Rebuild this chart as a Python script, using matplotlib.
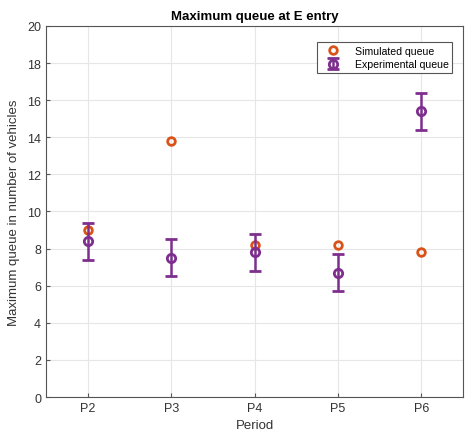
import matplotlib.pyplot as plt
import numpy as np

periods = ['P2', 'P3', 'P4', 'P5', 'P6']
simulated = [9.0, 13.8, 8.2, 8.2, 7.8]
experimental = [8.4, 7.5, 7.8, 6.7, 15.4]
exp_err = [1.0, 1.0, 1.0, 1.0, 1.0]

orange = '#D95319'
purple = '#7E2F8E'

plt.rcParams['font.family'] = ['Liberation Sans', 'DejaVu Sans']

fig = plt.figure(figsize=(4.65, 4.35), dpi=100)
ax = fig.add_axes([0.099, 0.085, 0.897, 0.853])

x = np.arange(1, len(periods) + 1)
ax.plot(x, simulated, 'o', mfc='none', mec=orange, mew=2, ms=5.5,
        label='Simulated queue', zorder=3)
ax.errorbar(x, experimental, yerr=exp_err, fmt='o', mfc='none', mec=purple,
            mew=2, ms=6, ecolor=purple, elinewidth=1.8, capsize=4.5,
            capthick=1.8, label='Experimental queue', zorder=3)

ax.set_xlim(0.5, 5.5)
ax.set_ylim(0, 20)
ax.set_xticks(x)
ax.set_xticklabels(periods)
ax.set_yticks(np.arange(0, 21, 2))
ax.grid(True, color='#e6e6e6', linewidth=0.8)
ax.set_axisbelow(True)
for s in ax.spines.values():
    s.set_color('#555555')
    s.set_linewidth(0.8)
ax.tick_params(labelsize=9, colors='#555555', labelcolor='#333333',
               direction='in', length=3)

ax.set_title('Maximum queue at E entry', fontsize=9.5, fontweight='bold', pad=5)
ax.set_xlabel('Period', fontsize=9.5, color='#333333')
ax.set_ylabel('Maximum queue in number of vehicles', fontsize=9.5,
              color='#333333', labelpad=5)

leg = ax.legend(loc='upper right', bbox_to_anchor=(0.974, 0.957), fontsize=7.6,
                fancybox=False, framealpha=1, edgecolor='#555555',
                borderpad=0.35, handletextpad=1.0, labelspacing=0.35,
                handlelength=2.2, borderaxespad=0)
leg.get_frame().set_linewidth(0.8)

fig.savefig('out.png', dpi=100)
